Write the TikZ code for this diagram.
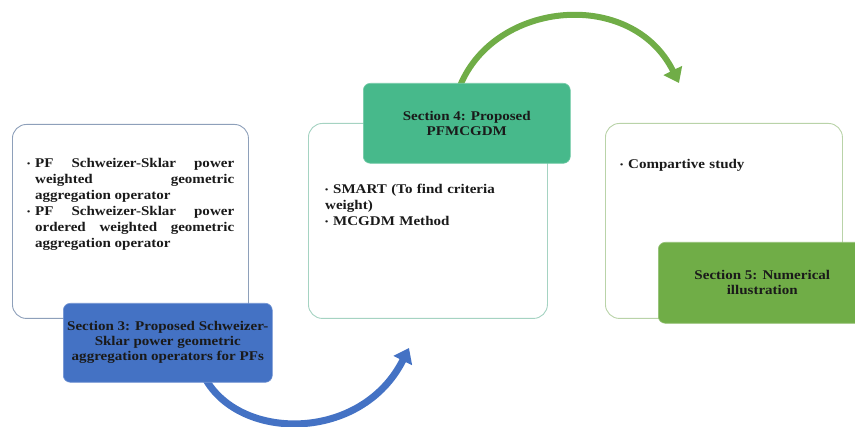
\documentclass[tikz,border=0pt]{standalone}
\usepackage{fontspec}
\setmainfont[FakeStretch=1.13]{Liberation Serif}
\usetikzlibrary{arrows.meta}
\definecolor{bordA}{HTML}{8EA0BA}
\definecolor{bordB}{HTML}{A5D3C2}
\definecolor{bordC}{HTML}{B9D3A8}
\definecolor{secblue}{HTML}{4472C4}
\definecolor{secteal}{HTML}{47B98B}
\definecolor{secgreen}{HTML}{70AD47}
\definecolor{txt}{HTML}{1A1A1A}
\newcommand\bitem[1]{\par\hangindent=8pt\hangafter=1\noindent\makebox[8pt][l]{\raisebox{0.3pt}{\footnotesize\textbullet}}#1\par}
\tikzset{
  panel/.style={draw, line width=0.9pt, rounded corners=14pt, fill=white},
  secbox/.style={rounded corners=7pt, line width=0.6pt, text=txt, font=\bfseries\fontsize{13.3}{15}\selectfont, align=center},
  bullets/.style={anchor=north west, inner sep=0pt, text=txt, font=\bfseries\fontsize{13.3}{16}\selectfont},
  flowarrow/.style={line width=6pt, -{Triangle[width=20pt,length=14pt]}}
}
\begin{document}
\begin{tikzpicture}[x=1pt,y=-1pt]
\useasboundingbox (0,0) rectangle (855,427);
% arrows (behind boxes)
\coordinate (gs) at (460,86);
\coordinate (ge) at (679,83);
\coordinate (bs) at (205,378);
\coordinate (be) at (409,348);
\draw[flowarrow, draw=secgreen] (gs) .. controls (495,0) and (632,-12) .. (ge);
\draw[flowarrow, draw=secblue, line width=7pt] (bs) .. controls (240,442) and (362,442) .. (be);
% panels
\node[panel, draw=bordA, minimum width=236pt, minimum height=194pt, anchor=north west] (p1) at (12,124) {};
\node[panel, draw=bordB, minimum width=239pt, minimum height=195pt, anchor=north west] (p2) at (308,123) {};
\node[panel, draw=bordC, minimum width=237pt, minimum height=195pt, anchor=north west] (p3) at (605,123) {};
% bullet texts
\node[bullets, text width=207pt, align=justify] (t1) at (27,151) {%
\bitem{PF Schweizer-Sklar power\linebreak weighted geometric\linebreak aggregation operator}%
\bitem{PF Schweizer-Sklar power\linebreak ordered weighted geometric\linebreak aggregation operator}};
\node[bullets, text width=205pt, align=left] (t2) at (325,177) {%
\bitem{SMART (To find criteria\\weight)}%
\bitem{MCGDM Method}};
\node[bullets, text width=205pt, align=left] (t3) at (620,152) {%
\bitem{Compartive study}};
% section boxes
\node[secbox, fill=secblue, draw=secblue!75!white, minimum width=209pt, minimum height=79pt, anchor=north west] (s3) at (63,303)
  {Section 3: Proposed Schweizer-\\Sklar power geometric\\aggregation operators for PFs};
\node[secbox, fill=secteal, draw=secteal!75!white, minimum width=207pt, minimum height=80pt, anchor=north west] (s4) at (363,83)
  {Section 4: Proposed\\PFMCGDM};
\node[secbox, fill=secgreen, draw=secgreen!75!white, minimum width=208pt, minimum height=81pt, anchor=north west] (s5) at (658,242)
  {Section 5: Numerical\\illustration};
\end{tikzpicture}
\end{document}
